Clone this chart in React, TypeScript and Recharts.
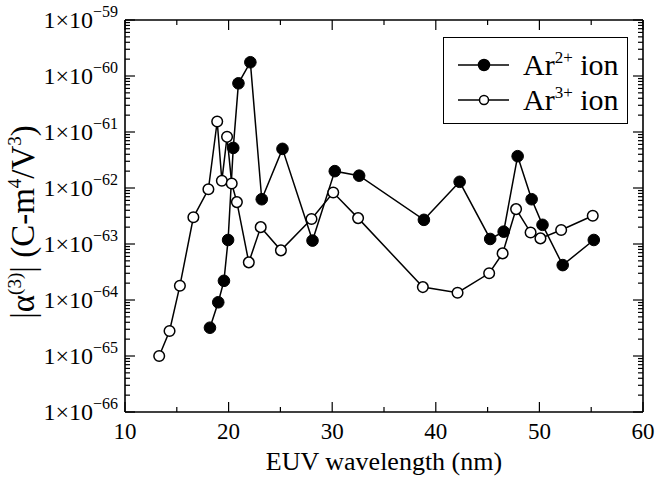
import React from 'react';
import { LineChart, Line, XAxis, YAxis, Legend } from 'recharts';

// ---- data ----
const ar2Wavelength = [18.2, 19.0, 19.55, 19.95, 20.45, 20.95, 22.1, 23.2, 25.2, 28.1, 30.25, 32.6, 38.85, 42.3, 45.25, 46.55, 47.9, 49.25, 50.3, 52.25, 55.25];
const ar2Alpha = [3.2e-65, 9.1e-65, 2.2e-64, 1.18e-63, 5.2e-62, 7.4e-61, 1.76e-60, 6.3e-63, 5.0e-62, 1.15e-63, 2.0e-62, 1.66e-62, 2.7e-63, 1.29e-62, 1.23e-63, 1.66e-63, 3.7e-62, 6.3e-63, 2.2e-63, 4.2e-64, 1.18e-63];

const ar3Wavelength = [13.3, 14.3, 15.3, 16.6, 18.05, 18.9, 19.35, 19.85, 20.3, 20.8, 21.95, 23.1, 25.05, 28.0, 30.1, 32.5, 38.75, 42.1, 45.15, 46.45, 47.75, 49.15, 50.1, 52.1, 55.15];
const ar3Alpha = [1.0e-65, 2.8e-65, 1.8e-64, 3.0e-63, 9.5e-63, 1.54e-61, 1.35e-62, 8.2e-62, 1.2e-62, 5.6e-63, 4.7e-64, 2.0e-63, 7.7e-64, 2.8e-63, 8.3e-63, 2.9e-63, 1.7e-64, 1.35e-64, 3.0e-64, 6.8e-64, 4.2e-63, 1.6e-63, 1.26e-63, 1.78e-63, 3.2e-63];

const xMajorTicks = [10, 20, 30, 40, 50, 60];
const xMinorTicks = [15, 25, 35, 45, 55];
const yMajorTicks = [1e-66, 1e-65, 1e-64, 1e-63, 1e-62, 1e-61, 1e-60, 1e-59];
const yMinorMultipliers = [2, 3, 4, 5, 6, 7, 8, 9];

const seriesNames = ['Ar', 'Ar'];
const seriesCharges = ['2+', '3+'];

// ---- derived ----
const ar2Data = ar2Wavelength.map((x, i) => ({ x, y: ar2Alpha[i] }));
const ar3Data = ar3Wavelength.map((x, i) => ({ x, y: ar3Alpha[i] }));
const xTicksAll = [...xMajorTicks, ...xMinorTicks].sort((a, b) => a - b);
const yMinorTicks = yMajorTicks.slice(0, -1).flatMap((d) => yMinorMultipliers.map((m) => m * d));
const yTicksAll = [...yMajorTicks, ...yMinorTicks].sort((a, b) => a - b);

const FONT = '"Liberation Serif", "Times New Roman", Times, serif';
const STROKE = '#000';

const isYMajor = (v: number) => {
  const lg = Math.log10(v);
  return Math.abs(lg - Math.round(lg)) < 1e-6;
};
const isXMajor = (v: number) => xMajorTicks.includes(v);

const LeftTick = (props: any) => {
  const { x, y, payload } = props;
  const v = payload.value as number;
  const major = isYMajor(v);
  const e = Math.round(Math.log10(v));
  return (
    <g>
      <line x1={x} x2={x + (major ? 10 : 5)} y1={y} y2={y} stroke={STROKE} strokeWidth={1.2} />
      {major && (
        <text x={x - 7} y={y + 8} textAnchor="end" fontFamily={FONT} fontSize={24} fill="#000">
          1×10
          <tspan dy={-11} fontSize={16}>{'\u2212' + Math.abs(e)}</tspan>
        </text>
      )}
    </g>
  );
};

const RightTick = (props: any) => {
  const { x, y, payload } = props;
  const major = isYMajor(payload.value);
  return <line x1={x} x2={x - (major ? 10 : 5)} y1={y} y2={y} stroke={STROKE} strokeWidth={1.2} />;
};

const BottomTick = (props: any) => {
  const { x, y, payload } = props;
  const major = isXMajor(payload.value);
  return (
    <g>
      <line x1={x} x2={x} y1={y} y2={y - (major ? 10 : 5)} stroke={STROKE} strokeWidth={1.2} />
      {major && (
        <text x={x} y={y + 27} textAnchor="middle" fontFamily={FONT} fontSize={23} fill="#000">
          {payload.value}
        </text>
      )}
    </g>
  );
};

const TopTick = (props: any) => {
  const { x, y, payload } = props;
  const major = isXMajor(payload.value);
  return <line x1={x} x2={x} y1={y} y2={y + (major ? 10 : 5)} stroke={STROKE} strokeWidth={1.2} />;
};

const YLabel = () => (
  <text transform="translate(34,222) rotate(-90)" textAnchor="middle" fontFamily={FONT} fontSize={33} fill="#000">
    |α<tspan dy={-13} fontSize={19}>(3)</tspan>
    <tspan dy={13}>| (C-m</tspan>
    <tspan dy={-13} fontSize={19}>4</tspan>
    <tspan dy={13}>/V</tspan>
    <tspan dy={-13} fontSize={19}>3</tspan>
    <tspan dy={13}>)</tspan>
  </text>
);

const LegendBox = () => {
  const rows = [
    { fill: '#000', r: 5.5 },
    { fill: '#fff', r: 4.5 },
  ];
  return (
    <div
      style={{
        width: 185,
        height: 87,
        border: '1.5px solid #000',
        boxSizing: 'border-box',
        background: '#fff',
        position: 'relative',
        fontFamily: FONT,
      }}
    >
      {rows.map((row, i) => (
        <div key={i} style={{ position: 'absolute', left: 0, top: i === 0 ? 9 : 44, height: 36, width: '100%' }}>
          <svg width={70} height={36} style={{ position: 'absolute', left: 0, top: 0 }}>
            <line x1={14} x2={65} y1={18} y2={18} stroke="#000" strokeWidth={1.5} />
            <circle cx={40} cy={18} r={row.r} fill={row.fill} stroke="#000" strokeWidth={1.5} />
          </svg>
          <div
            style={{
              position: 'absolute',
              left: 79,
              top: 0,
              fontSize: 30,
              lineHeight: '36px',
              whiteSpace: 'nowrap',
              color: '#000',
            }}
          >
            {seriesNames[i]}
            <span style={{ fontSize: 17, position: 'relative', top: -12 }}>{seriesCharges[i]}</span>
            {' ion'}
          </div>
        </div>
      ))}
    </div>
  );
};

export default function App() {
  return (
    <div style={{ position: 'absolute', left: 0, top: 0, background: '#fff' }}>
      <LineChart width={657} height={479} margin={{ top: 0, right: 0, bottom: 0, left: 0 }}>
        <XAxis
          xAxisId="b"
          dataKey="x"
          type="number"
          domain={[10, 60]}
          ticks={xTicksAll}
          interval={0}
          allowDataOverflow
          height={67}
          tickSize={0}
          tickMargin={0}
          tickLine={false}
          axisLine={{ stroke: STROKE, strokeWidth: 1.6 }}
          tick={(p: any) => <BottomTick {...p} />}
          label={{
            value: 'EUV wavelength (nm)',
            position: 'insideBottom',
            offset: 9,
            style: { fontFamily: FONT, fontSize: 26, fill: '#000' },
          }}
        />
        <XAxis
          xAxisId="t"
          orientation="top"
          dataKey="x"
          type="number"
          domain={[10, 60]}
          ticks={xTicksAll}
          interval={0}
          allowDataOverflow
          height={20}
          tickSize={0}
          tickMargin={0}
          tickLine={false}
          axisLine={{ stroke: STROKE, strokeWidth: 1.6 }}
          tick={(p: any) => <TopTick {...p} />}
        />
        <YAxis
          yAxisId="l"
          type="number"
          scale="log"
          domain={[1e-66, 1e-59]}
          ticks={yTicksAll}
          interval={0}
          allowDataOverflow
          width={125}
          tickSize={0}
          tickMargin={0}
          tickLine={false}
          axisLine={{ stroke: STROKE, strokeWidth: 1.6 }}
          tick={(p: any) => <LeftTick {...p} />}
          label={{ content: () => <YLabel /> }}
        />
        <YAxis
          yAxisId="r"
          orientation="right"
          type="number"
          scale="log"
          domain={[1e-66, 1e-59]}
          ticks={yTicksAll}
          interval={0}
          allowDataOverflow
          width={14}
          tickSize={0}
          tickMargin={0}
          tickLine={false}
          axisLine={{ stroke: STROKE, strokeWidth: 1.6 }}
          tick={(p: any) => <RightTick {...p} />}
        />
        <Legend
          layout="vertical"
          align="center"
          verticalAlign="middle"
          wrapperStyle={{ position: 'absolute', left: 443, top: 37, width: 185, height: 87 }}
          content={() => <LegendBox />}
        />
        <Line
          xAxisId="t"
          yAxisId="r"
          data={ar2Data}
          dataKey="y"
          stroke="none"
          dot={false}
          activeDot={false}
          legendType="none"
          isAnimationActive={false}
        />
        <Line
          xAxisId="b"
          yAxisId="l"
          data={ar3Data}
          dataKey="y"
          name="Ar3+ ion"
          stroke={STROKE}
          strokeWidth={1.5}
          dot={{ r: 5.3, fill: '#fff', stroke: STROKE, strokeWidth: 1.5 }}
          activeDot={false}
          isAnimationActive={false}
        />
        <Line
          xAxisId="b"
          yAxisId="l"
          data={ar2Data}
          dataKey="y"
          name="Ar2+ ion"
          stroke={STROKE}
          strokeWidth={1.5}
          dot={{ r: 5.8, fill: STROKE, stroke: STROKE, strokeWidth: 1 }}
          activeDot={false}
          isAnimationActive={false}
        />
      </LineChart>
    </div>
  );
}
